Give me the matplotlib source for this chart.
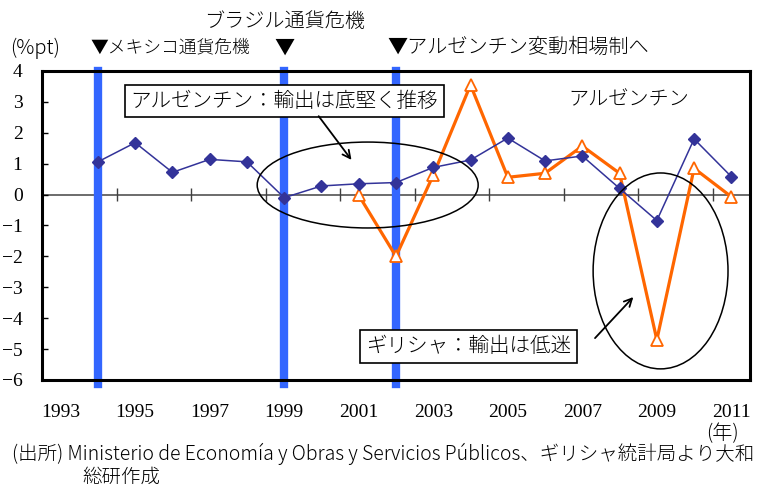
import matplotlib
matplotlib.use('Agg')
import matplotlib.pyplot as plt
import numpy as np
from matplotlib.patches import Ellipse

plt.rcParams['font.family'] = ['Noto Sans CJK JP', 'DejaVu Sans']

# 輸出の寄与度（%pt）
years_arg = np.arange(1994, 2012)
argentina = [1.06, 1.68, 0.72, 1.14, 1.06, -0.10, 0.28, 0.35, 0.39,
             0.88, 1.12, 1.83, 1.09, 1.25, 0.20, -0.84, 1.80, 0.58]
years_grc = np.arange(2001, 2012)
greece = [-0.02, -2.00, 0.63, 3.55, 0.56, 0.69, 1.57, 0.69, -4.70, 0.85, -0.07]

# 危機・制度変更の年
event_years = [1994, 1999, 2002]

year_labels = [str(y) for y in range(1993, 2012, 2)]
y_ticks = list(range(-6, 5))

W, H = 759, 487
fig = plt.figure(figsize=(W / 100, H / 100), dpi=100)
ax = fig.add_axes([42 / W, 1 - 380 / H, 708 / W, 309 / H])

serif = ['Liberation Serif', 'DejaVu Serif']
jp = ['Noto Sans CJK JP', 'DejaVu Sans']
wt = 'light'

ax.set_xlim(1992.5, 2011.5)
ax.set_ylim(-6, 4)

# ゼロ線と目盛り（区切りは系列の間）
ax.axhline(0, color='#606060', lw=1.3, zorder=1)
ax.vlines(np.arange(1994.5, 2011, 2), -0.22, 0.22, color='#404040', lw=1.0, zorder=1)

for yr in event_years:
    ax.axvline(yr, ymin=-0.012, ymax=1, color='#3366ff', lw=6, zorder=2, clip_on=False)

ax.plot(years_arg, argentina, color='#333399', lw=1.1, marker='D', ms=6.5,
        mfc='#333399', mec='#333399', zorder=4)
ax.plot(years_grc, greece, color='#ff6600', lw=2.3, marker='^', ms=8,
        mfc='white', mec='#ff6600', mew=1.3, zorder=3)

ax.set_xticks(range(1993, 2012, 2))
ax.set_xticklabels(year_labels)
ax.tick_params(axis='x', length=0, pad=17)
ax.set_yticks(y_ticks)
ax.set_yticklabels([f'{v}'.replace('-', '\u2212') for v in y_ticks])
ax.tick_params(axis='y', direction='in', length=4, width=1, pad=14)
for lab in ax.get_xticklabels() + ax.get_yticklabels():
    lab.set_family(serif)
    lab.set_fontsize(14)

for s in ax.spines.values():
    s.set_linewidth(2.2)
    s.set_color('black')

# 吹き出しと楕円
ax.add_patch(Ellipse((2001.24, 0.31), 5.93, 2.78, fill=False, ec='black', lw=1.1, zorder=5))
ax.add_patch(Ellipse((2009.1, -2.47), 3.62, 6.34, fill=False, ec='black', lw=1.1, zorder=5))

box = dict(boxstyle='square,pad=0.28', fc='white', ec='black', lw=1.2)
ax.text(1999.0, 3.03, 'アルゼンチン：輸出は底堅く推移', ha='center', va='center',
        fontsize=14.8, family=jp, weight=wt, bbox=box, zorder=6)
ax.text(2003.95, -4.92, 'ギリシャ：輸出は低迷', ha='center', va='center',
        fontsize=14.8, family=jp, weight=wt, bbox=box, zorder=6)
ax.text(2008.25, 3.06, 'アルゼンチン', ha='center', va='center', fontsize=14.5,
        family=jp, weight=wt)

arrow = dict(arrowstyle='->', color='black', lw=1.3, mutation_scale=14)
ax.annotate('', xy=(2000.85, 1.05), xytext=(1999.88, 2.61), arrowprops=arrow, zorder=6)
ax.annotate('', xy=(2008.42, -3.25), xytext=(2007.29, -4.71), arrowprops=arrow, zorder=6)

# 上部の見出し
def ftext(x, y, s, size=14.5, **kw):
    fig.text(x / W, 1 - y / H, s, va='center', family=jp, weight=wt, fontsize=size, **kw)

xt = ax.get_xaxis_transform()
ftext(10, 48, '(%pt)')
ax.text(event_years[0] - 0.2, 1.075, '▼メキシコ通貨危機', transform=xt,
        ha='left', va='center', fontsize=12.8, family=jp, weight=wt)
ax.text(event_years[1], 1.075, '▼', transform=xt,
        ha='center', va='center', fontsize=14.5, family=jp, weight=wt)
ax.text(event_years[1], 1.16, 'ブラジル通貨危機', transform=xt,
        ha='center', va='center', fontsize=14.5, family=jp, weight=wt)
ax.text(event_years[2] - 0.23, 1.075, '▼アルゼンチン変動相場制へ', transform=xt,
        ha='left', va='center', fontsize=14.5, family=jp, weight=wt)

ftext(722, 434, '(年)', ha='center')
ftext(12, 454, '(出所) Ministerio de Economía y Obras y Servicios Públicos、ギリシャ統計局より大和',
      size=14, ha='left')
ftext(82, 477, '総研作成', size=14, ha='left')

fig.savefig('out.png', dpi=100)
